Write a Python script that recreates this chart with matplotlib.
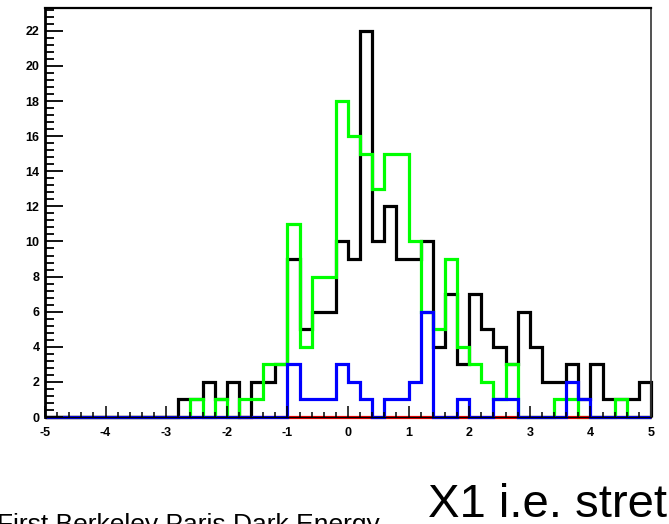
import numpy as np
import matplotlib
matplotlib.use("Agg")
import matplotlib.pyplot as plt
from matplotlib.ticker import MultipleLocator

# stretch (x1) histograms, 50 bins of 0.2 between -5 and 5
x_lo, x_hi, n_bins = -5.0, 5.0, 50

all_sn = [0, 0, 0, 0, 0, 0, 0, 0, 0, 0,
          0, 1, 1, 2, 1, 2, 0, 2, 2, 3,
          9, 5, 6, 6, 10, 9, 22, 10, 12, 9,
          9, 10, 4, 7, 3, 7, 5, 4, 3, 6,
          4, 2, 2, 3, 1, 3, 1, 1, 1, 2]

green_sn = [0, 0, 0, 0, 0, 0, 0, 0, 0, 0,
            0, 0, 1, 0, 1, 0, 1, 1, 3, 3,
            11, 4, 8, 8, 18, 16, 15, 13, 15, 15,
            10, 6, 5, 9, 4, 3, 2, 1, 3, 0,
            0, 0, 1, 1, 0, 0, 0, 1, 0, 0]

blue_sn = [0, 0, 0, 0, 0, 0, 0, 0, 0, 0,
           0, 0, 0, 0, 0, 0, 0, 0, 0, 0,
           3, 1, 1, 1, 3, 2, 1, 0, 1, 1,
           2, 6, 0, 0, 1, 0, 0, 1, 1, 0,
           0, 0, 0, 2, 1, 0, 0, 0, 0, 0]

red_sn = [0] * n_bins

y_max = 23.3

plt.rcParams['font.family'] = ['Liberation Sans', 'DejaVu Sans']
plt.rcParams['axes.unicode_minus'] = False

fig = plt.figure(figsize=(6.69, 5.24), dpi=100)
ax = fig.add_axes([45/669, 1 - 417/524, 606/669, 409/524])

edges = np.linspace(x_lo, x_hi, n_bins + 1)
for vals, col in [(all_sn, 'black'), (green_sn, '#00ff00'),
                  (red_sn, '#ff0000'), (blue_sn, '#0000ff')]:
    st = ax.stairs(vals, edges, baseline=0, color=col, lw=2.3, clip_on=False)
    st.set_joinstyle('miter')

ax.set_xlim(x_lo, x_hi)
ax.set_ylim(0, y_max)

ax.xaxis.set_major_locator(MultipleLocator(1))
ax.xaxis.set_minor_locator(MultipleLocator(0.2))
ax.yaxis.set_major_locator(MultipleLocator(2))
ax.yaxis.set_minor_locator(MultipleLocator(0.4))

ax.tick_params(axis='x', which='major', direction='in', length=8, width=1.1,
               pad=7, labelsize=9)
ax.tick_params(axis='x', which='minor', direction='in', length=3.5, width=1.1)
ax.tick_params(axis='y', which='major', direction='in', length=13, width=1.3,
               pad=4, labelsize=9)
ax.tick_params(axis='y', which='minor', direction='in', length=6.5, width=1.3)
for lab in ax.get_xticklabels() + ax.get_yticklabels():
    lab.set_fontweight('bold')

ax.spines['left'].set_linewidth(2.0)
ax.spines['top'].set_linewidth(1.6)
ax.spines['right'].set_linewidth(1.2)
ax.spines['right'].set_color('#333333')
ax.spines['bottom'].set_linewidth(1.0)

fig.text(-3/669, 1 - 532/524, 'First Berkeley Paris Dark Energy',
         fontsize=19, ha='left', va='baseline')
fig.text(667/669, 1 - 517/524, 'X1 i.e. stret',
         fontsize=34, ha='right', va='baseline')

fig.savefig('out.png', dpi=100)
